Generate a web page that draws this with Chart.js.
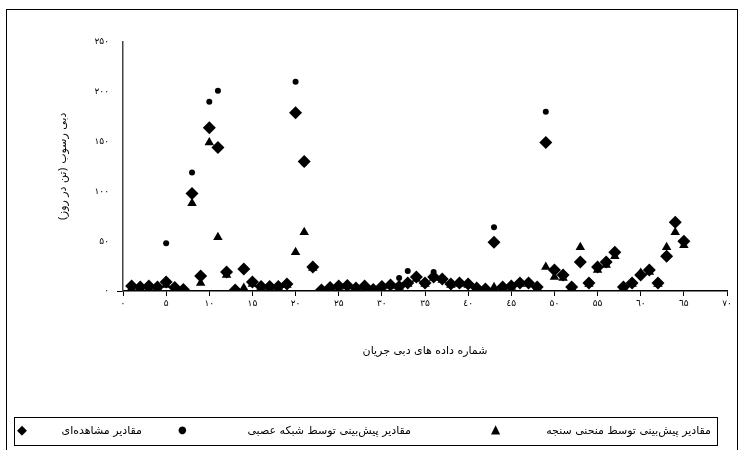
<!DOCTYPE html>
<html><head><meta charset="utf-8">
<script src="https://cdn.jsdelivr.net/npm/chart.js@4.4.1/dist/chart.umd.min.js"></script>
<style>
html,body{margin:0;padding:0;background:#fff;}
#wrap{position:relative;width:745px;height:450px;overflow:hidden;background:#fff;}
#c{position:absolute;left:0;top:0;}
.frame{position:absolute;left:6px;top:9px;width:730px;height:460px;border:1.5px solid #000;}
.legend{position:absolute;left:14px;top:417px;width:704px;height:29px;border:1.5px solid #000;box-sizing:border-box;font-family:'DejaVu Sans',sans-serif;font-size:11px;color:#000;}
.lt{position:absolute;top:6px;direction:rtl;white-space:nowrap;}
.mk{position:absolute;top:4px;}
</style>
</head><body>
<div id="wrap">
<div class="frame"></div>
<canvas id="c" width="745" height="450"></canvas>
<div class="legend">
  <span class="mk" style="left:2px;font-size:13px;">◆</span>
  <span class="lt" style="right:575px;">مقادیر مشاهده‌ای</span>
  <span class="mk" style="left:163px;font-size:10px;top:6px;">●</span>
  <span class="lt" style="right:306px;">مقادیر پیش‌بینی توسط شبکه عصبی</span>
  <span class="mk" style="left:476px;font-size:12px;">▲</span>
  <span class="lt" style="right:6px;">مقادیر پیش‌بینی توسط منحنی سنجه</span>
</div>
</div>
<script>
// data index (x) 1..65
const xIndex = Array.from({length: 65}, (_, i) => i + 1);
const observed = [5,4,5,4,9,3.5,1.5,98,15,164, 144,19,1,22,9,4.5,4.5,4.5,7,179, 130,24,1,3.5,5,5.5,3,5,1.5,4.5, 6,4.5,8,14,8,14,12,7,8,7, 3,2,49,4,5,8,8,4,149,21, 16,4,29,8,24,29,39,4,8,16, 21,8,35,69,50];
const neuralNet = [4,4,4,4,48,3,1,119,14,190, 201,20,1,21,9,4,4,4,7,210, 128,25,1,4,5,5,3,5,2,5, 6,13,20,13,8,19,12,7,8,7, 3,2,64,4,5,8,8,4,180,20, 15,4,28,8,24,28,38,4,8,16, 21,8,36,68,50];
const ratingCurve = [3,3,3,3,6,2,0.5,88,8,149, 54,16,1,3,7,4,4,4,6,39, 59,23,1,3,4,4.5,2.5,4,1,4, 5,4,7,12,7,13,11,6,7,6, 2.5,1.5,3.7,3.5,4,7,7,3,24,14, 13,3,44,7,21,26,35,3,7,18, 19,7,44,59,46];
const xTicks = [0,5,10,15,20,25,30,35,40,45,50,55,60,65,70];
const yTicks = [0,50,100,150,200,250];
const seriesNames = ['مقادیر مشاهده‌ای','مقادیر پیش‌بینی توسط شبکه عصبی','مقادیر پیش‌بینی توسط منحنی سنجه'];
const xTitle = 'شماره داده های دبی جریان';
const yTitle = '\u200Fدبی رسوب (تن در روز)\u200F';

const faDigits = {'0':'۰','1':'۱','2':'۲','3':'۳','4':'٤','5':'۵','6':'٦','7':'۷','8':'۸','9':'۹'};
const toFa = v => String(v).replace(/[0-9]/g, d => faDigits[d]);
const pts = arr => arr.map((v, i) => ({x: xIndex[i], y: v}));

new Chart(document.getElementById('c'), {
  type: 'scatter',
  data: {
    datasets: [
      {label: seriesNames[1], data: pts(neuralNet), pointStyle: 'circle', radius: 3, backgroundColor: '#000', borderColor: '#000', borderWidth: 0},
      {label: seriesNames[0], data: pts(observed), pointStyle: 'rectRot', radius: 6.5, backgroundColor: '#000', borderColor: '#000', borderWidth: 0},
      {label: seriesNames[2], data: pts(ratingCurve), pointStyle: 'triangle', radius: 5.5, backgroundColor: '#000', borderColor: '#000', borderWidth: 0}
    ]
  },
  options: {
    responsive: false,
    animation: false,
    events: [],
    layout: {padding: {left: 0, top: 42, right: 18, bottom: 0}},
    plugins: {legend: {display: false}, tooltip: {enabled: false}},
    scales: {
      x: {
        type: 'linear', min: 0, max: 70,
        afterFit: s => { s.height = 159; },
        afterBuildTicks: s => { s.ticks = xTicks.map(v => ({value: v})); },
        border: {display: true, color: '#000', width: 1.5},
        grid: {display: true, drawOnChartArea: false, drawTicks: true, tickLength: 5, color: '#000', lineWidth: 1},
        ticks: {padding: 2, color: '#000', font: {family: 'DejaVu Sans', size: 9}, maxRotation: 0, autoSkip: false, callback: v => toFa(v)},
        title: {display: true, text: xTitle, color: '#000', font: {family: 'DejaVu Sans', size: 11}, padding: {top: 0, bottom: 92}}
      },
      y: {
        type: 'linear', min: 0, max: 250,
        afterFit: s => { s.width = 123; },
        afterBuildTicks: s => { s.ticks = yTicks.map(v => ({value: v})); },
        border: {display: true, color: '#444', width: 1.5},
        grid: {display: true, drawOnChartArea: false, drawTicks: true, tickLength: 6, color: c => (c.tick && c.tick.value === 0) ? '#000' : 'rgba(0,0,0,0)'},
        ticks: {padding: 8, color: '#000', font: {family: 'DejaVu Sans', size: 9}, callback: v => toFa(v)},
        title: {display: true, text: yTitle, color: '#000', font: {family: 'DejaVu Sans', size: 11}, padding: {top: 57, bottom: 0}}
      }
    }
  }
});
</script>
</body></html>
